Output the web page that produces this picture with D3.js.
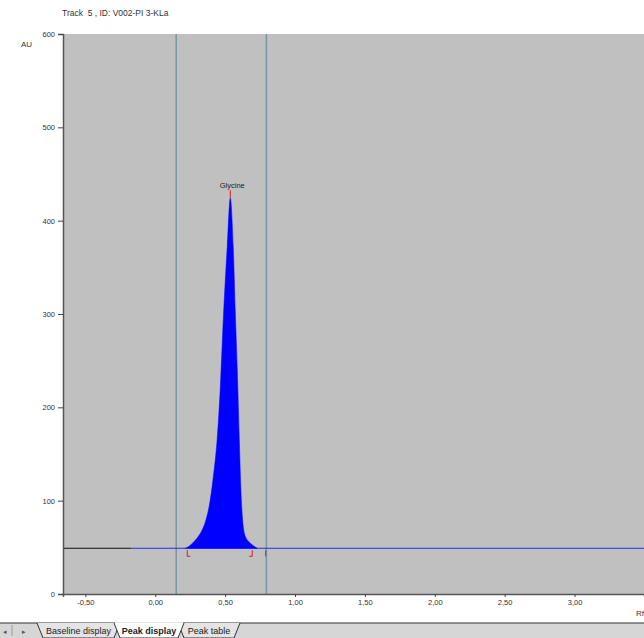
<!DOCTYPE html>
<html>
<head>
<meta charset="utf-8">
<script src="https://cdn.jsdelivr.net/npm/d3@7"></script>
<style>
  body { margin: 0; background: #fff; overflow: hidden; }
  svg { display: block; font-family: Arial, "Liberation Sans", sans-serif; }
</style>
</head>
<body>
<div id="chart"></div>
<script>
// chart values
var title = "Track  5 , ID: V002-PI 3-KLa";
var yTicks = [0, 100, 200, 300, 400, 500, 600];
var xTicks = [-0.5, 0, 0.5, 1, 1.5, 2, 2.5, 3];
var peakRf = [0.215, 0.24, 0.27, 0.30, 0.33, 0.36, 0.387, 0.415, 0.444, 0.465, 0.487, 0.515, 0.537, 0.558, 0.573, 0.587, 0.601, 0.612, 0.622, 0.634, 0.65, 0.67, 0.70, 0.73];
var peakAU = [49, 51, 55, 60, 67, 78, 95, 125, 168, 220, 295, 372, 424, 372, 301, 240, 168, 115, 85, 68, 60, 56, 52, 49];
var baselineAU = 49;
var baselineSplit = -0.17;   // black part ends here, blue part starts
var bandLines = [0.15, 0.795];
var peakName = "Glycine";
var peakStart = 0.229, peakEnd = 0.694, peakMark = 0.79;
var tabs = ["Baseline display", "Peak display", "Peak table"];

var svgWidth = 644;
var svgHeight = 638;

var svg = d3.select("#chart")
  .append("svg")
  .attr("width", svgWidth)
  .attr("height", svgHeight);

var plot = { left: 63, top: 34, right: 644, bottom: 594 };

var x = d3.scaleLinear()
  .domain([-0.66, 3.497])
  .range([plot.left, plot.right]);

var y = d3.scaleLinear()
  .domain([0, 600])
  .range([plot.bottom, plot.top]);

var fmt = function(v) { return d3.format(".2f")(v).replace(".", ",").replace("−", "-"); };

// title + unit
svg.append("text")
  .attr("x", 62).attr("y", 16)
  .attr("font-size", "8.5px").attr("fill", "#333")
  .style("white-space", "pre")
  .text(title);

svg.append("text")
  .attr("x", 21).attr("y", 47)
  .attr("font-size", "8px").attr("fill", "#333")
  .text("AU");

// plot background
svg.append("rect")
  .attr("x", plot.left).attr("y", plot.top)
  .attr("width", plot.right - plot.left)
  .attr("height", plot.bottom - plot.top)
  .attr("fill", "#c0c0c0");

// band lines
svg.selectAll(".band")
  .data(bandLines)
  .enter()
  .append("line")
  .attr("x1", d => x(d)).attr("x2", d => x(d))
  .attr("y1", plot.top).attr("y2", plot.bottom)
  .attr("stroke", "#7896a0")
  .attr("stroke-width", 1.5);

// baseline
svg.append("line")
  .attr("x1", plot.left).attr("x2", x(baselineSplit))
  .attr("y1", y(baselineAU)).attr("y2", y(baselineAU))
  .attr("stroke", "#111").attr("stroke-width", 1);

svg.append("line")
  .attr("x1", x(baselineSplit)).attr("x2", plot.right)
  .attr("y1", y(baselineAU)).attr("y2", y(baselineAU))
  .attr("stroke", "#2a2ae0").attr("stroke-width", 1);

// peak
var peakData = peakRf.map(function(d, i) { return { rf: d, au: peakAU[i] }; });

var area = d3.area()
  .x(d => x(d.rf))
  .y0(y(baselineAU))
  .y1(d => y(d.au))
  .curve(d3.curveMonotoneX);

svg.append("path")
  .datum(peakData)
  .attr("d", area)
  .attr("fill", "#0000ff")
  .attr("stroke", "#0000ff")
  .attr("stroke-width", 0.5);

// apex marker + label
var apex = peakData[d3.maxIndex(peakData, d => d.au)];
svg.append("line")
  .attr("x1", x(apex.rf)).attr("x2", x(apex.rf))
  .attr("y1", y(apex.au) - 8).attr("y2", y(apex.au))
  .attr("stroke", "#d02020").attr("stroke-width", 1);

svg.append("text")
  .attr("x", x(apex.rf) + 2).attr("y", y(apex.au) - 10)
  .attr("text-anchor", "middle")
  .attr("font-size", "7.5px").attr("fill", "#222")
  .text(peakName);

// start / end brackets
var by = y(baselineAU);
svg.append("path")
  .attr("d", `M${x(peakStart) + 3},${by + 8} H${x(peakStart)} V${by + 2}`)
  .attr("fill", "none").attr("stroke", "#d02020").attr("stroke-width", 1);
svg.append("path")
  .attr("d", `M${x(peakEnd) - 3},${by + 8} H${x(peakEnd)} V${by + 2}`)
  .attr("fill", "none").attr("stroke", "#d02020").attr("stroke-width", 1);
svg.append("line")
  .attr("x1", x(peakMark)).attr("x2", x(peakMark))
  .attr("y1", by + 2).attr("y2", by + 8)
  .attr("stroke", "#d02020").attr("stroke-width", 1);

// axes
var leftAxis = d3.axisLeft(y).tickValues(yTicks).tickSize(5).tickPadding(3);
var gy = svg.append("g")
  .attr("transform", `translate(${plot.left}, 0)`)
  .call(leftAxis);

var bottomAxis = d3.axisBottom(x).tickValues(xTicks).tickSize(3).tickPadding(3).tickFormat(fmt);
var gx = svg.append("g")
  .attr("transform", `translate(0, ${plot.bottom})`)
  .call(bottomAxis);

[gx, gy].forEach(function(g) {
  g.attr("color", "#444");
  g.select(".domain").attr("stroke", "#555").attr("stroke-width", 1.5);
  g.selectAll(".tick line").attr("stroke", "#444");
  g.selectAll(".tick text").attr("font-size", "7.5px").attr("fill", "#333")
    .attr("font-family", "Arial, 'Liberation Sans', sans-serif");
});

svg.append("text")
  .attr("x", 636).attr("y", 616)
  .attr("font-size", "8px").attr("fill", "#333")
  .text("Rf");

// tab strip at the bottom
var tabTop = 623;
svg.append("rect")
  .attr("x", 0).attr("y", tabTop)
  .attr("width", svgWidth).attr("height", svgHeight - tabTop)
  .attr("fill", "#d6d6d6");
svg.append("line")
  .attr("x1", 0).attr("x2", svgWidth)
  .attr("y1", tabTop).attr("y2", tabTop)
  .attr("stroke", "#333");

// scroll arrows
svg.append("text").attr("x", 3).attr("y", 634).attr("font-size", "7px").attr("fill", "#555").text("\u25C2");
svg.append("line").attr("x1", 12).attr("x2", 12).attr("y1", 625).attr("y2", 636).attr("stroke", "#999");
svg.append("text").attr("x", 22).attr("y", 634).attr("font-size", "7px").attr("fill", "#555").text("\u25B8");

var tabPos = [
  { x0: 37, x1: 120 },
  { x0: 114, x1: 184 },
  { x0: 178, x1: 240 }
];
var tabOrder = [0, 2, 1];
tabOrder.forEach(function(i) {
  var p = tabPos[i];
  var active = i === 1;
  svg.append("path")
    .attr("d", `M${p.x0},${tabTop} L${p.x0 + 6},${svgHeight} L${p.x1 - 6},${svgHeight} L${p.x1},${tabTop}`)
    .attr("fill", active ? "#ffffff" : "#e4e4e4")
    .attr("stroke", "#333").attr("stroke-width", 1);
  svg.append("text")
    .attr("x", (p.x0 + p.x1) / 2).attr("y", 634)
    .attr("text-anchor", "middle")
    .attr("font-size", "9px")
    .attr("font-weight", active ? "bold" : "normal")
    .attr("fill", "#222")
    .text(tabs[i]);
});
svg.append("line")
  .attr("x1", tabPos[1].x0 + 1).attr("x2", tabPos[1].x1 - 1)
  .attr("y1", tabTop).attr("y2", tabTop)
  .attr("stroke", "#fff").attr("stroke-width", 1.5);
</script>
</body>
</html>
